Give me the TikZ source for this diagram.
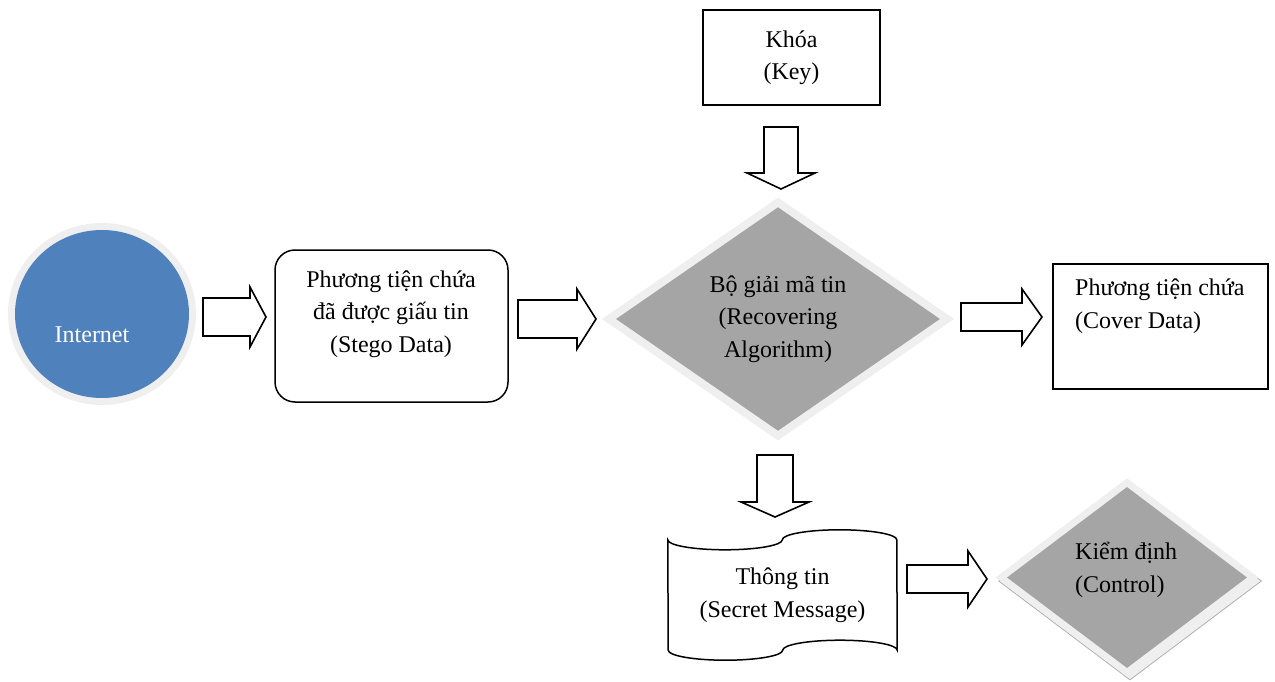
\documentclass[tikz,border=0pt]{standalone}
\usepackage{fontspec}
\setmainfont{Liberation Serif}
\usetikzlibrary{shapes.geometric,calc}

\definecolor{inetblue}{HTML}{4F81BD}
\definecolor{decgray}{HTML}{A5A5A5}
\definecolor{glow}{HTML}{EFEFEF}
\definecolor{stackline}{HTML}{B0B0B0}

\tikzset{
  txt/.style={font=\fontsize{24}{32.5}\selectfont, align=center, inner sep=0pt},
  plainbox/.style={rectangle, draw=black, line width=1.5pt, fill=white, inner sep=0pt},
  glowdiamond/.style={diamond, fill=decgray, inner sep=0pt,
    preaction={draw=glow, line width=#1, line join=miter}},
  tapeline/.style={draw=black, line width=1.5pt, fill=white},
  % hollow block arrow: body half-width, head half-width, head length
  blockarrow/.style n args={3}{draw=black, line width=1.6pt, fill=white, line join=miter,
    to path={
      ($(\tikztostart)!#1!90:(\tikztotarget)$)
      -- ($(\tikztotarget)!#3!(\tikztostart)!#1!-90:(\tikztostart)$)
      -- ($(\tikztotarget)!#3!(\tikztostart)!#2!-90:(\tikztostart)$)
      -- (\tikztotarget)
      -- ($(\tikztotarget)!#3!(\tikztostart)!#2!90:(\tikztostart)$)
      -- ($(\tikztotarget)!#3!(\tikztostart)!#1!90:(\tikztostart)$)
      -- ($(\tikztostart)!#1!-90:(\tikztotarget)$)
      -- cycle}},
}

\begin{document}
\begin{tikzpicture}[x=1pt,y=-1pt]
\useasboundingbox (0,0) rectangle (1275,682);

% source
\node[ellipse, fill=inetblue, minimum width=174pt, minimum height=168pt, inner sep=0pt,
      preaction={draw=glow, line width=14pt}] (internet) at (102,314) {};
\node[txt, text=white] (internettext) at (92,335) {Internet};

% stego data
\node[plainbox, rounded corners=20pt, minimum width=233pt, minimum height=152pt] (stego) at (391.5,326) {};
\node[txt] (stegotext) at (391,314) {Phương tiện chứa\\đã được giấu tin\\(Stego Data)};

% key
\node[plainbox, txt, minimum width=177pt, minimum height=95pt] (key) at (791.5,57.5) {Khóa\\(Key)};

% recovering algorithm
\node[glowdiamond=16pt, txt, minimum width=324pt, minimum height=222pt] (decoder) at (778,319)
  {Bộ giải mã tin\\(Recovering\\Algorithm)};

% cover data
\node[plainbox, minimum width=215pt, minimum height=125pt] (cover) at (1160.5,326.5) {};
\node[txt, align=left, anchor=west] (covertext) at (1075,306) {Phương tiện chứa\\(Cover Data)};

% secret message (punched tape)
\node[txt, minimum width=229pt, minimum height=110pt] (secret) at (782.5,595) {};
\draw[tapeline] (secret.north west)
  arc[start angle=180, end angle=0, x radius=57.25, y radius=10]
  arc[start angle=180, end angle=360, x radius=57.25, y radius=10]
  -- (secret.south east)
  arc[start angle=0, end angle=-180, x radius=57.25, y radius=10]
  arc[start angle=0, end angle=180, x radius=57.25, y radius=10]
  -- cycle;
\node[txt] (secrettext) at (secret.center) {Thông tin\\(Secret Message)};

% control
\node[diamond, draw=stackline, fill=glow, line width=0.8pt, inner sep=0pt,
      minimum width=263pt, minimum height=198pt] (controlstack) at (1130,581) {};
\node[glowdiamond=14pt, minimum width=240pt, minimum height=181pt] (control) at (1127,577.5) {};
\node[txt, align=left, anchor=west] (controltext) at (1075,570) {Kiểm định\\(Control)};

% connector end points
\coordinate (a1s) at (203,317);  \coordinate (a1e) at (266,317);
\coordinate (a2s) at (518,319);  \coordinate (a2e) at (596,319);
\coordinate (a3s) at (961,317);  \coordinate (a3e) at (1042,317);
\coordinate (a4s) at (907,579);  \coordinate (a4e) at (987,579);
\coordinate (d1s) at (781,127);  \coordinate (d1e) at (781,189);
\coordinate (d2s) at (775,455);  \coordinate (d2e) at (775,517);

\draw[blockarrow={19pt}{30pt}{16pt}] (a1s) to (a1e);
\draw[blockarrow={19pt}{30pt}{19pt}] (a2s) to (a2e);
\draw[blockarrow={14pt}{28pt}{20pt}] (a3s) to (a3e);
\draw[blockarrow={14pt}{28pt}{19pt}] (a4s) to (a4e);
\draw[blockarrow={17pt}{34pt}{16pt}] (d1s) to (d1e);
\draw[blockarrow={18pt}{34pt}{15pt}] (d2s) to (d2e);
\end{tikzpicture}
\end{document}
